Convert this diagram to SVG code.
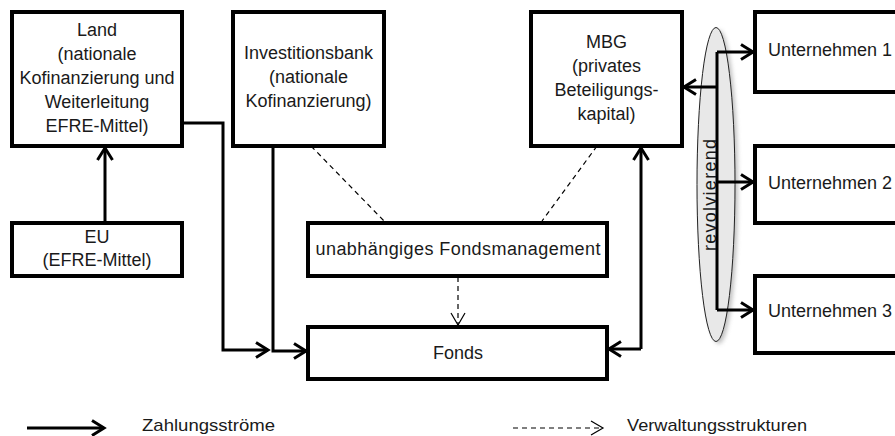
<svg xmlns="http://www.w3.org/2000/svg" width="895" height="436" viewBox="0 0 895 436">
<style>
.box{fill:#fff;stroke:#000;stroke-width:4}
.t{font-family:"Liberation Sans",Arial,sans-serif;font-size:18px;fill:#1a1a1a;text-anchor:middle}
.tl{font-family:"Liberation Sans",Arial,sans-serif;font-size:18px;fill:#1a1a1a}
.lg{font-family:"Liberation Sans",Arial,sans-serif;font-size:17px;fill:#1a1a1a}
.s{fill:none;stroke:#000;stroke-width:3;marker-end:url(#ah)}
.sn{fill:none;stroke:#000;stroke-width:3}
.d{fill:none;stroke:#000;stroke-width:1.2;stroke-dasharray:5,4}
.da{fill:none;stroke:#000;stroke-width:1.2;stroke-dasharray:5,4;marker-end:url(#dh)}
</style>
<defs>
<marker id="ah" markerUnits="userSpaceOnUse" markerWidth="18" markerHeight="20" viewBox="0 0 18 20" refX="14" refY="10" orient="auto">
<path d="M2,2.5 L14,10 L2,17.5" fill="none" stroke="#000" stroke-width="3"/>
</marker>
<marker id="dh" markerUnits="userSpaceOnUse" markerWidth="16" markerHeight="18" viewBox="0 0 16 18" refX="13" refY="9" orient="auto">
<path d="M1,2 L13,9 L1,16" fill="none" stroke="#000" stroke-width="1.2"/>
</marker>
<filter id="sh" x="-50%" y="-10%" width="200%" height="120%">
<feGaussianBlur stdDeviation="2"/>
</filter>
</defs>

<g id="revolvierend">
<ellipse cx="719" cy="187" rx="19" ry="157" fill="#999" opacity="0.6" filter="url(#sh)"/>
<ellipse cx="716" cy="184.5" rx="19" ry="157" fill="#e8e8e8" stroke="#222" stroke-width="1"/>
<text class="t" transform="translate(716,195) rotate(-90)" textLength="112" lengthAdjust="spacing">revolvierend</text>
</g>

<g id="land">
<rect class="box" x="12" y="12" width="170" height="134"/>
<text class="t" x="97" y="36">Land</text>
<text class="t" x="97" y="60">(nationale</text>
<text class="t" x="97" y="84">Kofinanzierung und</text>
<text class="t" x="97" y="108">Weiterleitung</text>
<text class="t" x="97" y="132">EFRE-Mittel)</text>
</g>

<g id="investitionsbank">
<rect class="box" x="233" y="12" width="151" height="134"/>
<text class="t" x="308.5" y="59">Investitionsbank</text>
<text class="t" x="308.5" y="83">(nationale</text>
<text class="t" x="308.5" y="107">Kofinanzierung)</text>
</g>

<g id="mbg">
<rect class="box" x="531" y="12" width="151" height="134"/>
<text class="t" x="606.5" y="48">MBG</text>
<text class="t" x="606.5" y="72">(privates</text>
<text class="t" x="606.5" y="96">Beteiligungs-</text>
<text class="t" x="606.5" y="120">kapital)</text>
</g>

<g id="eu">
<rect class="box" x="12" y="223" width="170" height="53"/>
<text class="t" x="97" y="243">EU</text>
<text class="t" x="97" y="266">(EFRE-Mittel)</text>
</g>

<g id="fondsmanagement">
<rect class="box" x="308" y="223" width="299" height="53"/>
<text class="t" x="458" y="255" textLength="285" lengthAdjust="spacing">unabhängiges Fondsmanagement</text>
</g>

<g id="fonds">
<rect class="box" x="308" y="327" width="299" height="52"/>
<text class="t" x="458" y="359">Fonds</text>
</g>

<g id="unternehmen1">
<rect class="box" x="755" y="12" width="150" height="80"/>
<text class="tl" x="768" y="56">Unternehmen 1</text>
</g>
<g id="unternehmen2">
<rect class="box" x="755" y="146" width="150" height="77"/>
<text class="tl" x="768" y="189">Unternehmen 2</text>
</g>
<g id="unternehmen3">
<rect class="box" x="755" y="276" width="150" height="77"/>
<text class="tl" x="768" y="317">Unternehmen 3</text>
</g>

<g id="connectors">
<path class="s" d="M105,223 V148"/>
<path class="s" d="M182,123 H223 V350 H268"/>
<path class="s" d="M273,146 V351 H306"/>
<path class="s" d="M641,349 H609"/>
<path class="s" d="M641,349 V148"/>
<path class="sn" d="M717,52 V310"/>
<path class="s" d="M717,52 H753"/>
<path class="s" d="M717,182 H753"/>
<path class="s" d="M717,310 H753"/>
<path class="s" d="M717,87 H684"/>
<path class="d" d="M311,146 L385,222"/>
<path class="d" d="M597,146 L542,221"/>
<path class="da" d="M458,277 V325"/>
</g>

<g id="legend">
<path class="s" d="M27,428 H104"/>
<text class="lg" x="142" y="431" textLength="133" lengthAdjust="spacingAndGlyphs">Zahlungsströme</text>
<path class="da" d="M513,428 H603"/>
<text class="lg" x="627" y="431" textLength="180" lengthAdjust="spacingAndGlyphs">Verwaltungsstrukturen</text>
</g>
</svg>
